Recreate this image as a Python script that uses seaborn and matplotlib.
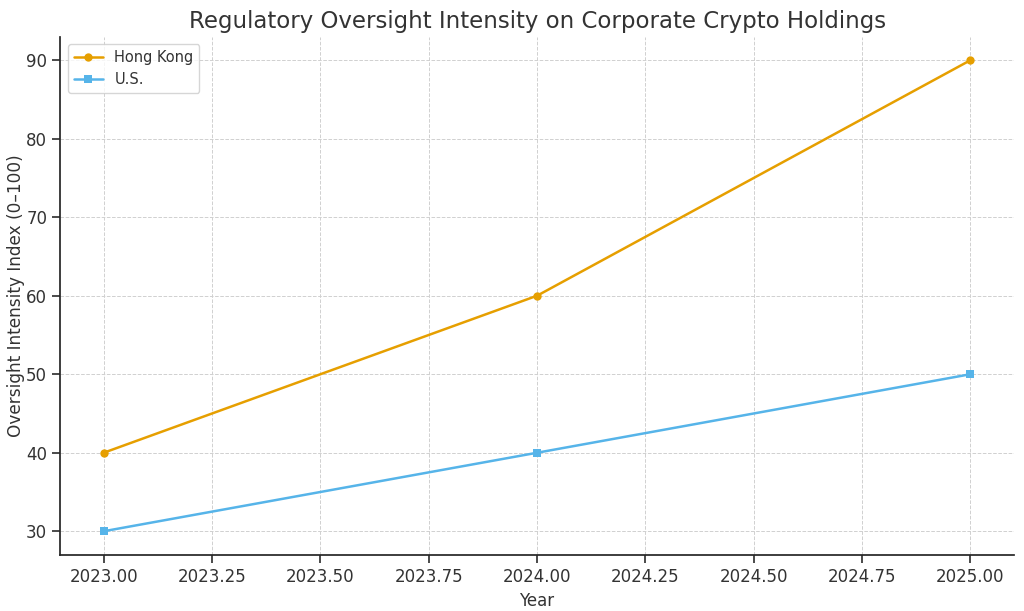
import matplotlib
matplotlib.use("Agg")
import matplotlib.pyplot as plt
import seaborn as sns
import pandas as pd

years = [2023, 2024, 2025]
hong_kong = [40, 60, 90]
us = [30, 40, 50]
series_names = ["Hong Kong", "U.S."]

df = pd.DataFrame({
    "Year": years * 2,
    "Value": hong_kong + us,
    "Region": [series_names[0]] * 3 + [series_names[1]] * 3,
})

sns.set_theme(style="ticks")
plt.rcParams["font.family"] = ["DejaVu Sans"]
plt.rcParams["text.color"] = "#333333"
plt.rcParams["axes.labelcolor"] = "#333333"
plt.rcParams["xtick.color"] = "#333333"
plt.rcParams["ytick.color"] = "#333333"

fig, ax = plt.subplots(figsize=(10.24, 6.11), dpi=100)
sns.lineplot(data=df, x="Year", y="Value", hue="Region", style="Region",
             markers={"Hong Kong": "o", "U.S.": "s"}, dashes=False,
             palette={"Hong Kong": "#E69F00", "U.S.": "#56B4E9"},
             linewidth=1.8, markersize=6, markeredgewidth=0, ax=ax)

ax.set_title("Regulatory Oversight Intensity on Corporate Crypto Holdings", fontsize=16.5, color="#333333")
ax.set_xlabel("Year", fontsize=12)
ax.set_ylabel("Oversight Intensity Index (0–100)", fontsize=12.2)
ax.yaxis.set_label_coords(-0.037, 0.5)
ax.tick_params(labelsize=12)
ax.grid(True, linestyle="--", color="#d0d0d0", linewidth=0.7)
sns.despine(ax=ax)
ax.set_xticks([2023.0, 2023.25, 2023.5, 2023.75, 2024.0, 2024.25, 2024.5, 2024.75, 2025.0])
ax.set_xticklabels([f"{v:.2f}" for v in ax.get_xticks()])
leg = ax.legend(loc="upper left", fontsize=10.5, frameon=True)
leg.set_title(None)
fig.subplots_adjust(left=0.059, right=0.99, top=0.94, bottom=0.092)
fig.savefig("out.png", dpi=100)
